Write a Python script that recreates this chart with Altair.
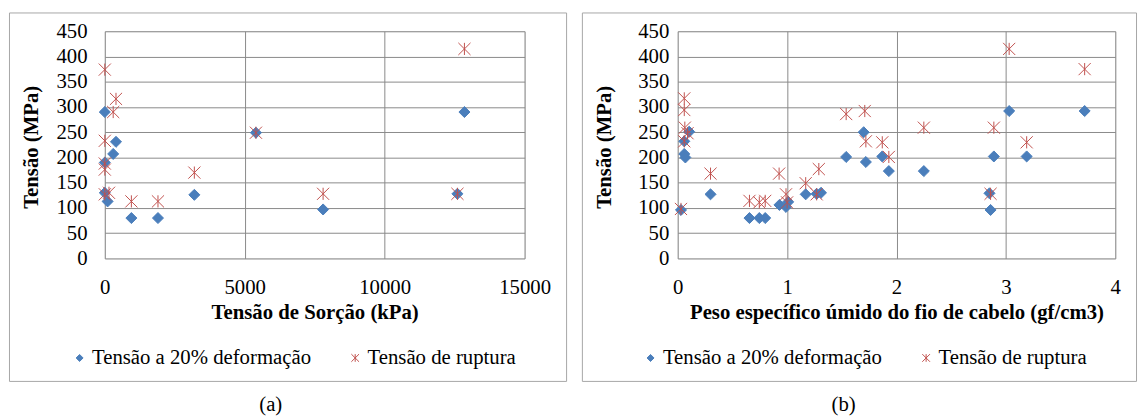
import altair as alt
import pandas as pd

SERIES = ["Tensão a 20% deformação", "Tensão de ruptura"]

# Panel (a): Tensão de Sorção (kPa)
a_def_x = [0, 0, 0, 100, 300, 400, 950, 1900, 3200, 5400, 7800, 12600, 12850]
a_def_y = [290, 190, 130, 113, 207, 231, 80, 80, 126, 249, 97, 128, 290]
a_rup_x = [0, 400, 300, 0, 0, 0, 0, 150, 950, 1900, 3200, 5400, 7800, 12600, 12850]
a_rup_y = [374, 316, 290, 233, 188, 176, 127, 130, 113, 113, 170, 249, 128, 128, 415]

# Panel (b): Peso específico úmido do fio de cabelo (gf/cm3)
b_def_x = [0.03, 0.06, 0.06, 0.07, 0.105, 0.30, 0.656, 0.746, 0.80, 0.93, 0.99, 1.01,
           1.17, 1.27, 1.31, 1.54, 1.70, 1.72, 1.87, 1.93, 2.25, 2.85, 2.86, 2.89,
           3.03, 3.19, 3.72]
b_def_y = [96, 232, 207, 200, 251, 127, 80, 80, 80, 106, 102, 112,
           127, 128, 130, 201, 250, 191, 202, 173, 173, 129, 96, 202,
           292, 202, 292]
b_rup_x = [0.03, 0.06, 0.06, 0.065, 0.09, 0.06, 0.30, 0.656, 0.746, 0.80, 0.927, 0.99,
           1.0, 1.17, 1.27, 1.29, 1.54, 1.71, 1.72, 1.87, 1.93, 2.25, 2.86, 2.89,
           3.03, 3.19, 3.72]
b_rup_y = [98, 317, 294, 259, 248, 232, 168, 114, 111, 114, 168, 127,
           111, 149, 127, 177, 286, 292, 232, 230, 201, 259, 128, 259,
           415, 230, 375]

Y_TICKS = [0, 50, 100, 150, 200, 250, 300, 350, 400, 450]
A_X_TICKS = [0, 5000, 10000, 15000]
B_X_TICKS = [0, 1, 2, 3, 4]

BLUE = "#4A7EBB"
RED = "#C0504D"
ASTERISK = "M-1.1,-1.1L1.1,1.1M-1.1,1.1L1.1,-1.1M0,-1.1L0,1.1"
FONT = "Liberation Serif"
GRID = "#898989"
FRAME = "#a6a6a6"


def make_df(dx, dy, rx, ry):
    rows = [{"x": x, "y": y, "serie": SERIES[0]} for x, y in zip(dx, dy)]
    rows += [{"x": x, "y": y, "serie": SERIES[1]} for x, y in zip(rx, ry)]
    return pd.DataFrame(rows)


def panel(df, xtitle, xdomain, xticks, width, frame_right, ylab_pad, legend_x, caption):
    height = 230
    frame = alt.Chart(alt.Data(values=[{}])).mark_rect(
        fillOpacity=0, stroke=FRAME, strokeWidth=1
    ).encode(
        x=alt.value(-96.5), x2=alt.value(frame_right),
        y=alt.value(-18.5), y2=alt.value(354.5),
    )
    leg = alt.Legend(
        orient="none", legendX=legend_x, legendY=320, direction="horizontal",
        title=None, labelFont=FONT, labelFontSize=21, labelColor="black",
        labelLimit=500, symbolSize=50, labelOffset=2, columnPadding=34,
        symbolStrokeWidth=1,
    )
    pts = alt.Chart(df).mark_point(filled=True, opacity=1, size=125, strokeWidth=1).encode(
        x=alt.X("x:Q", scale=alt.Scale(domain=xdomain, nice=False, zero=False),
                axis=alt.Axis(values=xticks, format="d", title=xtitle, grid=True,
                              gridColor=GRID, ticks=False, domain=False,
                              labelFont=FONT, labelFontSize=21, labelColor="black",
                              labelPadding=18, labelFlush=False, labelOverlap=False,
                              titleFont=FONT, titleFontSize=21, titleFontWeight="bold",
                              titleColor="black", titleX=width / 2, titleY=55,
                              titleBaseline="middle")),
        y=alt.Y("y:Q", scale=alt.Scale(domain=[0, 450], nice=False),
                axis=alt.Axis(values=Y_TICKS, title="Tensão (MPa)", grid=True,
                              gridColor=GRID, ticks=False, domain=False,
                              labelFont=FONT, labelFontSize=21, labelColor="black",
                              labelPadding=ylab_pad, labelFlush=False, labelOverlap=False,
                              titleFont=FONT, titleFontSize=21, titleFontWeight="bold",
                              titleColor="black", titleX=-74, titleY=117,
                              titleAngle=270, titleBaseline="middle")),
        color=alt.Color("serie:N", scale=alt.Scale(domain=SERIES, range=[BLUE, RED]), legend=leg),
        stroke=alt.Stroke("serie:N", scale=alt.Scale(domain=SERIES, range=[BLUE, RED]), legend=leg),
        shape=alt.Shape("serie:N", scale=alt.Scale(domain=SERIES, range=["diamond", ASTERISK]), legend=leg),
    )
    cap = alt.Chart(alt.Data(values=[{"t": caption}])).mark_text(
        font=FONT, fontSize=21, color="black", baseline="middle"
    ).encode(x=alt.value(168), y=alt.value(378), text="t:N")
    return alt.layer(frame, pts, cap).properties(width=width, height=height)


left = panel(make_df(a_def_x, a_def_y, a_rup_x, a_rup_y), "Tensão de Sorção (kPa)",
             [0, 15000], A_X_TICKS, 425, 467.5, 18, -36, "(a)")
right = panel(make_df(b_def_x, b_def_y, b_rup_x, b_rup_y),
              "Peso específico úmido do fio de cabelo (gf/cm3)",
              [0, 4], B_X_TICKS, 443, 464.5, 9, -38, "(b)")

chart = alt.hconcat(left, right, spacing=13).resolve_scale(
    color="independent", shape="independent", stroke="independent"
).properties(
    padding={"left": 0, "top": 1, "right": 0, "bottom": 0}
).configure_view(stroke=GRID, strokeWidth=1).configure(background="white")

chart.save("out.html", embed_options={"renderer": "svg", "actions": False})
